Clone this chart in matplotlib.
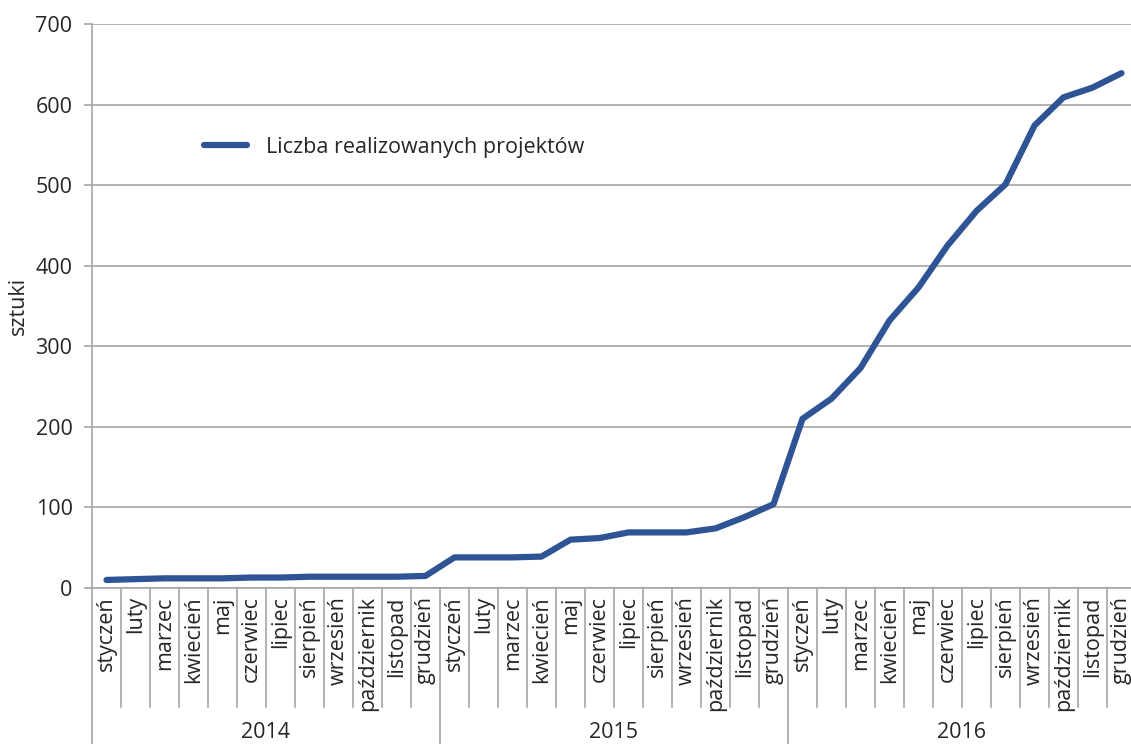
import matplotlib.pyplot as plt
from matplotlib import transforms

plt.rcParams['font.family'] = ['Open Sans', 'DejaVu Sans']

# monthly data, Jan 2014 - Dec 2016
months = ['styczeń', 'luty', 'marzec', 'kwiecień', 'maj', 'czerwiec', 'lipiec',
          'sierpień', 'wrzesień', 'październik', 'listopad', 'grudzień']
years = ['2014', '2015', '2016']
values = [10, 11, 12, 12, 12, 13, 13, 14, 14, 14, 14, 15,
          38, 38, 38, 39, 60, 62, 69, 69, 69, 74, 88, 104,
          210, 235, 273, 332, 373, 425, 468, 501, 574, 609, 621, 639]
series_name = 'Liczba realizowanych projektów'

W, H = 1131, 744
fig = plt.figure(figsize=(W / 100, H / 100), dpi=100)
left, right, top, bottom = 92, 1136, 24, 588
ax = fig.add_axes([left / W, (H - bottom) / H, (right - left) / W, (bottom - top) / H])

txt = '#262626'
grid = '#A6A6A6'
blue = '#2F5496'
fs = 15.5

n = len(values)
xs = [i + 0.5 for i in range(n)]
ax.plot(xs, values, color=blue, lw=4.5, solid_capstyle='round', label=series_name, clip_on=False)

ax.set_xlim(0, n)
ax.set_ylim(0, 700)
ax.set_yticks(range(0, 701, 100))
ax.yaxis.grid(True, color=grid, lw=1.2)
ax.set_axisbelow(True)
ax.tick_params(axis='y', length=6, color=grid, width=1.2, labelsize=fs, labelcolor=txt, pad=8)
ax.set_ylabel('sztuki', fontsize=fs, color=txt, labelpad=5)

for s in ['top', 'right']:
    ax.spines[s].set_visible(False)
for s in ['left', 'bottom']:
    ax.spines[s].set_color(grid)
    ax.spines[s].set_linewidth(1.2)

labels = months * len(years)
ax.set_xticks(xs)
ax.set_xticklabels(labels, rotation=90, fontsize=fs, color=txt, va='top')
ax.tick_params(axis='x', length=0, pad=6)

ph = bottom - top
trans = transforms.blended_transform_factory(ax.transData, ax.transAxes)
for i in range(n + 1):
    if i % 12 == 0:
        y0 = -(H - bottom) / ph
    else:
        y0 = -(707 - bottom) / ph
    ax.plot([i, i], [0, y0], color=grid, lw=1.2, transform=trans, clip_on=False)

for k, yr in enumerate(years):
    ax.text(12 * k + 6, -(733 - bottom) / ph, yr, transform=trans, ha='center', va='center',
            fontsize=fs, color=txt)

ax.legend(loc='center left', bbox_to_anchor=(93 / (right - left), (bottom - 147) / ph),
          frameon=False, fontsize=fs, handlelength=2.0, handletextpad=0.85,
          labelcolor=txt)

fig.savefig('out.png', dpi=100)
